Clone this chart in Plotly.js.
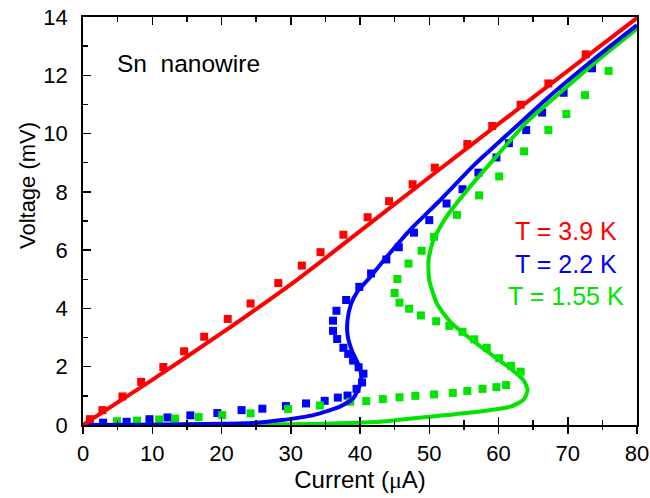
<!DOCTYPE html>
<html>
<head>
<meta charset="utf-8">
<script src="https://cdn.plot.ly/plotly-3.0.1.min.js"></script>
<style>html,body{margin:0;padding:0;background:#fff;}#chart{width:650px;height:498px;}</style>
</head>
<body>
<div id="chart"></div>
<script>
// ---- data ----
// Measured points, T = 3.9 K (red)
const redPtsI = [1.0, 2.8, 5.7, 8.4, 11.6, 14.6, 17.5, 20.9, 24.2, 28.2, 31.6, 34.3, 37.6, 41.1, 44.2, 47.6, 50.8, 55.5, 59.1, 63.2, 67.2, 72.6];
const redPtsV = [0.2, 0.51, 0.98, 1.48, 1.99, 2.53, 3.03, 3.64, 4.17, 4.87, 5.47, 5.93, 6.53, 7.13, 7.68, 8.26, 8.83, 9.64, 10.26, 10.99, 11.72, 12.72];
// Measured points, T = 2.2 K (blue)
const bluePtsI = [2.9, 6.3, 9.6, 12.2, 15.5, 19.4, 22.9, 25.9, 29.3, 32.2, 34.9, 36.8, 38.2, 39.5, 40.3, 40.5, 39.8, 39.0, 38.3, 37.6, 36.7, 36.1, 36.1, 36.6, 38.0, 39.9, 41.6, 43.8, 45.6, 47.8, 50.0, 52.5, 54.8, 57.1, 59.7, 61.5, 64.0, 66.3, 69.4, 73.5];
const bluePtsV = [0.08, 0.11, 0.2, 0.26, 0.33, 0.41, 0.51, 0.56, 0.65, 0.74, 0.83, 0.94, 1.01, 1.24, 1.46, 1.76, 1.98, 2.21, 2.44, 2.65, 2.95, 3.23, 3.58, 3.92, 4.29, 4.74, 5.2, 5.68, 6.1, 6.6, 7.03, 7.6, 8.09, 8.66, 9.18, 9.67, 10.12, 10.72, 11.4, 12.24];
// Measured points, T = 1.55 K (green)
const greenPtsI = [4.9, 7.8, 11.0, 13.3, 16.7, 20.1, 24.2, 29.6, 34.2, 38.6, 40.9, 43.3, 45.7, 48.0, 50.7, 53.4, 55.5, 57.7, 59.7, 61.1, 63.2, 61.8, 60.1, 58.3, 56.5, 54.8, 52.9, 51.0, 48.8, 47.1, 45.7, 45.0, 45.4, 47.0, 48.9, 50.7, 54.0, 57.2, 60.1, 63.7, 67.2, 69.8, 72.5, 75.9];
const greenPtsV = [0.13, 0.15, 0.19, 0.22, 0.27, 0.34, 0.4, 0.55, 0.67, 0.8, 0.82, 0.89, 0.95, 1.0, 1.05, 1.1, 1.17, 1.24, 1.3, 1.37, 1.83, 2.03, 2.29, 2.65, 2.94, 3.2, 3.4, 3.56, 3.76, 3.99, 4.2, 4.53, 5.01, 5.54, 5.98, 6.46, 7.21, 7.88, 8.53, 9.39, 10.12, 10.67, 11.32, 12.15];
// Model curves
const redFitI = [0, 10, 20, 31, 40, 50, 60, 70, 80];
const redFitV = [0, 1.55, 3.15, 5.0, 6.65, 8.5, 10.33, 12.15, 13.97];
const blueFitI = [0, 10, 20, 25, 28.4, 33.3, 37.1, 39.0, 39.9, 40.2, 39.8, 38.8, 38.2, 38.2, 38.7, 39.7, 41.2, 43.9, 47.2, 51.6, 56.6, 61.2, 67.2, 73.5, 80];
const blueFitV = [0, 0.01, 0.04, 0.08, 0.16, 0.34, 0.63, 0.91, 1.31, 1.66, 2.06, 2.57, 3.1, 3.6, 4.15, 4.6, 5.0, 5.78, 6.69, 7.72, 8.95, 9.95, 11.25, 12.5, 13.72];
const greenFitI = [0, 10, 20, 30, 36, 42, 45.3, 52.5, 57.3, 61.7, 63.6, 64.2, 63.6, 61.9, 59.7, 55.9, 53.0, 51.1, 50.0, 49.9, 50.6, 52.5, 55.9, 60.0, 64.1, 68.4, 74.0, 80];
const greenFitV = [0, 0.01, 0.02, 0.03, 0.05, 0.1, 0.17, 0.34, 0.46, 0.63, 0.86, 1.2, 1.54, 1.91, 2.29, 2.97, 3.55, 4.17, 4.98, 5.66, 6.35, 7.15, 8.18, 9.3, 10.4, 11.3, 12.45, 13.6];
const labels = ['T = 3.9 K', 'T = 2.2 K', 'T = 1.55 K'];
const labelI = [69.75, 69.75, 69.75];
const labelV = [6.66, 5.53, 4.43];

const RED = '#FF0000', BLUE = '#0000FF', GREEN = '#00E400';
const FONT = 'Liberation Sans, Arial, sans-serif';

function pts(x, y, c) {
  return {x: x, y: y, type: 'scatter', mode: 'markers', marker: {symbol: 'square', size: 8, color: c}, hoverinfo: 'skip', showlegend: false};
}
function fit(x, y, c) {
  return {x: x, y: y, type: 'scatter', mode: 'lines', line: {color: c, width: 4, shape: 'spline', smoothing: 0.6}, hoverinfo: 'skip', showlegend: false};
}

const data = [
  pts(redPtsI, redPtsV, RED),
  pts(bluePtsI, bluePtsV, BLUE),
  pts(greenPtsI, greenPtsV, GREEN),
  fit(greenFitI, greenFitV, GREEN),
  fit(blueFitI, blueFitV, BLUE),
  fit(redFitI, redFitV, RED),
  {x: [0], y: [0], xaxis: 'x2', type: 'scatter', mode: 'markers', marker: {opacity: 0}, hoverinfo: 'skip', showlegend: false}
];

const colors = [RED, BLUE, GREEN];
const annotations = labels.map((t, i) => ({
  text: t, x: labelI[i], y: labelV[i], xref: 'x', yref: 'y', showarrow: false,
  xanchor: 'center', yanchor: 'middle', font: {family: FONT, size: 25, color: colors[i]}
}));
annotations.push({text: 'Sn\u00A0 nanowire', x: 15.3, y: 12.4, xref: 'x', yref: 'y', showarrow: false,
  xanchor: 'center', yanchor: 'middle', font: {family: FONT, size: 24.5, color: '#000'}});
annotations.push({text: 'Voltage (mV)', x: -0.099, y: 0.586, xref: 'paper', yref: 'paper', showarrow: false,
  textangle: -90, xanchor: 'center', yanchor: 'middle', font: {family: FONT, size: 22, color: '#000'}});

const layout = {
  width: 650, height: 498,
  margin: {l: 83, r: 13, t: 17, b: 73},
  paper_bgcolor: '#fff', plot_bgcolor: '#fff',
  font: {family: FONT, color: '#000'},
  showlegend: false,
  xaxis: {
    range: [0, 80], dtick: 10, tick0: 0, ticks: 'inside', ticklen: 8, tickwidth: 1.5, tickcolor: '#000',
    minor: {dtick: 5, ticks: 'inside', ticklen: 5, tickwidth: 1.5, tickcolor: '#000'},
    mirror: 'ticks', showline: true, linecolor: '#000', linewidth: 1.8,
    showgrid: false, zeroline: false, ticklabelstandoff: 8,
    tickfont: {family: FONT, size: 22, color: '#000'},
    title: {text: 'Current (<span style="font-family:Liberation Serif">μ</span>A)', font: {family: FONT, size: 24, color: '#000'}, standoff: 6}
  },
  xaxis2: {
    range: [0, 80], dtick: 10, tick0: 0, overlaying: 'x', anchor: 'y', side: 'bottom',
    ticks: 'outside', ticklen: 8, tickwidth: 1.5, tickcolor: '#000',
    minor: {dtick: 5, ticks: 'outside', ticklen: 4, tickwidth: 1.5, tickcolor: '#000'},
    showticklabels: false, showline: false, showgrid: false, zeroline: false
  },
  yaxis: {
    range: [0, 14], dtick: 2, tick0: 0, ticks: 'inside', ticklen: 8, tickwidth: 1.5, tickcolor: '#000',
    minor: {dtick: 1, ticks: 'inside', ticklen: 5, tickwidth: 1.5, tickcolor: '#000'},
    mirror: true, showline: true, linecolor: '#000', linewidth: 1.8,
    showgrid: false, zeroline: false, ticklabelstandoff: 9,
    tickfont: {family: FONT, size: 22, color: '#000'}
  },
  annotations: annotations
};

Plotly.newPlot('chart', data, layout, {staticPlot: true, displayModeBar: false});
</script>
</body>
</html>
